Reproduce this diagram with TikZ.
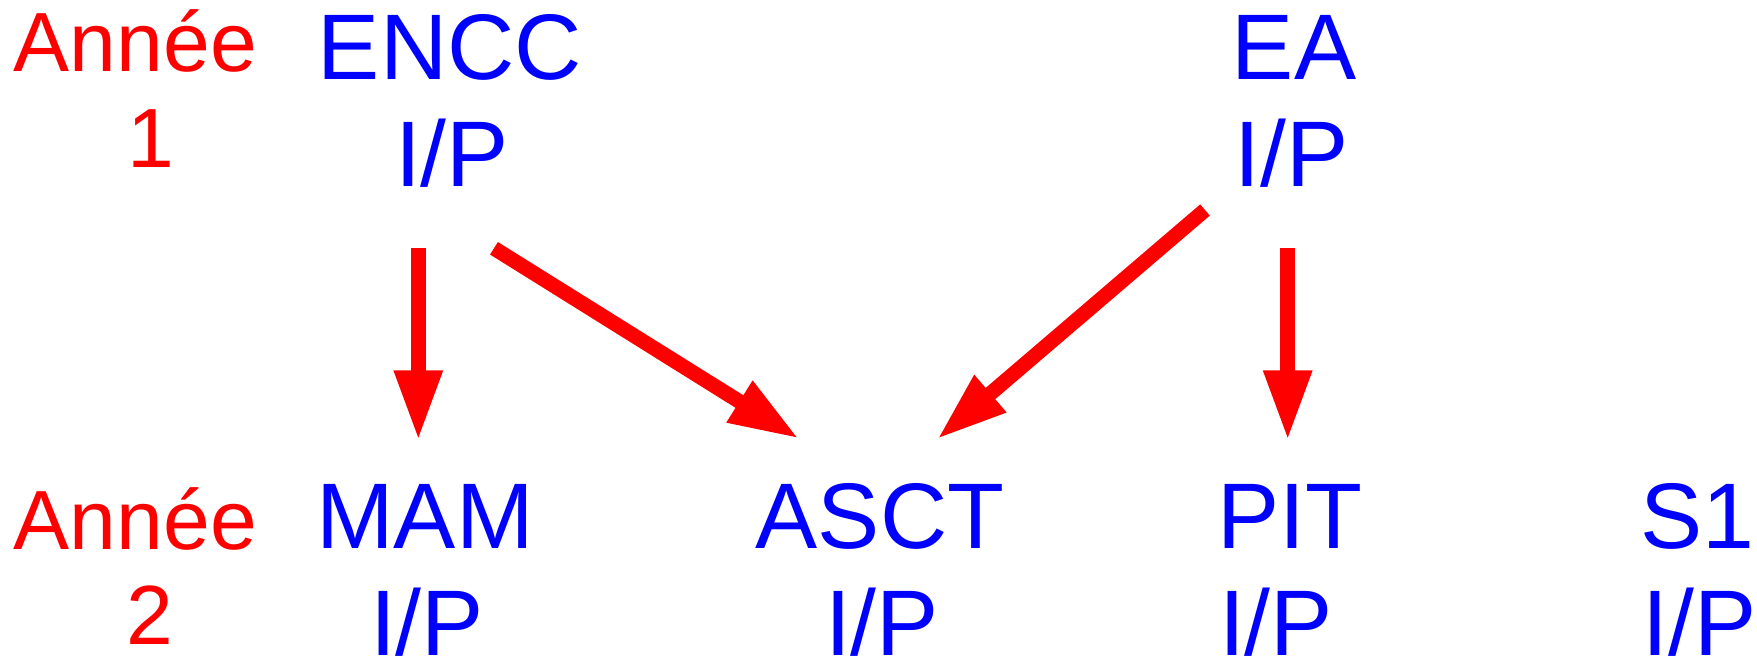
\documentclass[tikz,border=0pt]{standalone}
\usepackage{fontspec}
\setmainfont{Liberation Sans}
\usetikzlibrary{arrows.meta}
\definecolor{rouge}{RGB}{255,0,0}
\definecolor{bleu}{RGB}{0,0,255}

\begin{document}
\begin{tikzpicture}[x=0.01cm,y=-0.01cm,
    annee/.style={text=rouge,font=\fontsize{23.9pt}{28pt}\selectfont,inner sep=0pt,anchor=base},
    cours/.style={text=bleu,font=\fontsize{26.5pt}{31pt}\selectfont,inner sep=0pt,anchor=base},
    fleche/.style={draw=rouge,line width=4.2pt,-{Triangle[length=20pt,width=12.8pt]}}]
        \useasboundingbox (0,0) rectangle (1757,659);

        % annee 1
        \node[annee] (annee1) at (135.4,71.7) {Année};
        \node[annee] (num1) at (151,167.3) {1};
        \node[cours] (encc) at (450,79.3) {ENCC};
        \node[cours] (enccip) at (452,186.7) {I/P};
        \node[cours] (ea) at (1294,79.3) {EA};
        \node[cours] (eaip) at (1291.3,186.7) {I/P};

        % annee 2
        \node[annee] (annee2) at (135.4,549.3) {Année};
        \node[annee] (num2) at (150,645) {2};
        \node[cours] (mam) at (425,549) {MAM};
        \node[cours] (mamip) at (427,655.7) {I/P};
        \node[cours] (asct) at (880,549) {ASCT};
        \node[cours] (asctip) at (882,655.7) {I/P};
        \node[cours] (pit) at (1290,549) {PIT};
        \node[cours] (pitip) at (1276,655.7) {I/P};
        \node[cours] (s1) at (1697.5,549) {S1};
        \node[cours] (s1ip) at (1699.5,655.7) {I/P};

        \coordinate (enccbas) at (418.3,248.3);
        \coordinate (mamhaut) at (418.3,440.7);
        \coordinate (enccdiag) at (494,248.3);
        \coordinate (asctgauche) at (799.1,438.8);
        \coordinate (eadiag) at (1205,210);
        \coordinate (asctdroite) at (937,439.3);
        \coordinate (eabas) at (1287.7,248.3);
        \coordinate (pithaut) at (1287.7,440.7);

        \draw[fleche] (enccbas) -- (mamhaut);
        \draw[fleche] (enccdiag) -- (asctgauche);
        \draw[fleche] (eadiag) -- (asctdroite);
        \draw[fleche] (eabas) -- (pithaut);
\end{tikzpicture}
\end{document}
